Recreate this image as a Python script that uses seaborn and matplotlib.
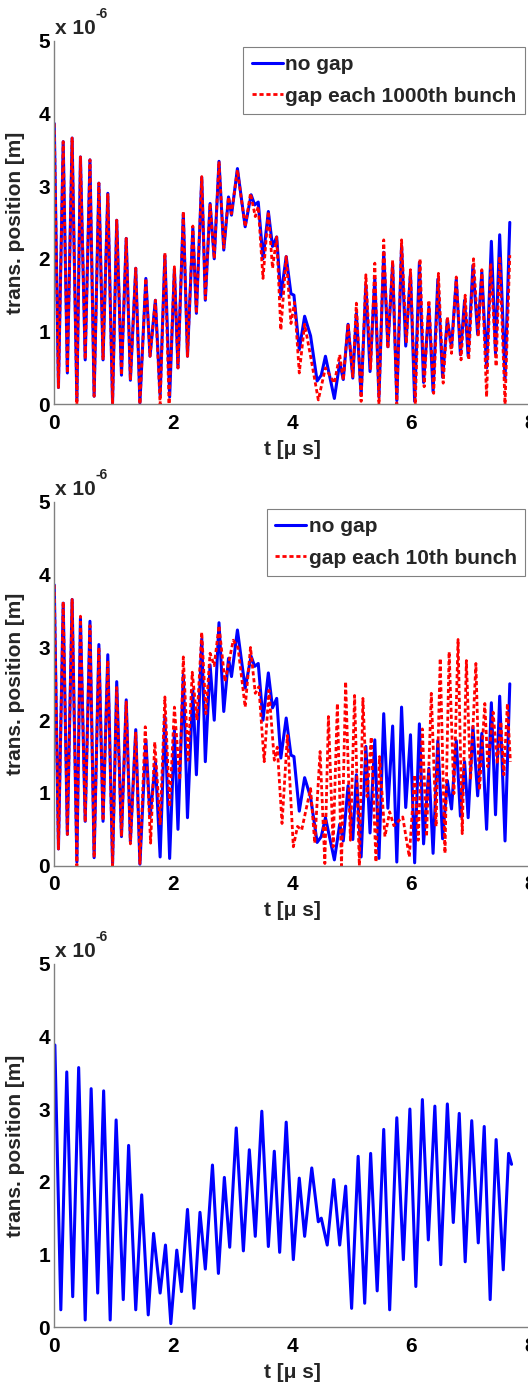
import matplotlib
matplotlib.use("Agg")
import matplotlib.pyplot as plt
import seaborn as sns

# ---------------- data (values in units of 1e-6 m, time in microseconds) ----------------
nogap_t = [0.00, 0.07, 0.15, 0.22, 0.30, 0.38, 0.44, 0.52, 0.60, 0.67, 0.75, 0.82, 0.90, 0.98,
           1.05, 1.13, 1.21, 1.28, 1.37, 1.44, 1.54, 1.61, 1.70, 1.78, 1.86, 1.94, 2.02, 2.08,
           2.17, 2.24, 2.33, 2.39, 2.48, 2.54, 2.62, 2.69, 2.77, 2.85, 2.93, 2.98, 3.08, 3.21,
           3.31, 3.37, 3.43, 3.51, 3.60, 3.67, 3.74, 3.81, 3.90, 3.98, 4.03, 4.12, 4.21, 4.31,
           4.42, 4.49, 4.56, 4.71, 4.80, 4.86, 4.94, 5.02, 5.08, 5.16, 5.24, 5.31, 5.39, 5.46,
           5.54, 5.61, 5.69, 5.76, 5.84, 5.91, 5.99, 6.06, 6.14, 6.21, 6.30, 6.37, 6.45, 6.53,
           6.61, 6.68, 6.76, 6.83, 6.90, 6.96, 7.04, 7.12, 7.19, 7.27, 7.35, 7.42, 7.49, 7.58,
           7.66]
nogap_v = [3.86, 0.23, 3.61, 0.43, 3.66, 0.05, 3.40, 0.61, 3.36, 0.11, 3.04, 0.61, 2.90, 0.02,
           2.53, 0.40, 2.28, 0.33, 1.87, 0.02, 1.73, 0.66, 1.43, 0.12, 2.05, 0.10, 1.86, 0.50,
           2.62, 0.66, 2.42, 1.25, 3.12, 1.43, 2.76, 2.00, 3.34, 2.12, 2.85, 2.60, 3.24, 2.44,
           2.88, 2.74, 2.78, 2.00, 2.65, 2.17, 2.30, 1.48, 2.03, 1.52, 1.50, 0.75, 1.21, 0.94,
           0.32, 0.40, 0.66, 0.08, 0.57, 0.34, 1.10, 0.36, 1.25, 0.12, 1.64, 0.45, 1.73, 0.10,
           2.09, 0.79, 1.92, 0.05, 2.18, 0.80, 1.80, 0.04, 1.95, 0.30, 1.34, 0.17, 1.72, 0.37,
           1.17, 0.78, 1.72, 0.68, 1.43, 0.66, 1.91, 0.96, 1.82, 0.50, 2.24, 0.70, 2.33, 0.34,
           2.50]

gap1000_t = [0.00, 0.07, 0.15, 0.22, 0.30, 0.38, 0.44, 0.52, 0.60, 0.67, 0.75, 0.82, 0.90, 0.98,
             1.05, 1.13, 1.21, 1.28, 1.37, 1.44, 1.54, 1.61, 1.70, 1.78, 1.86, 1.93, 2.02, 2.08,
             2.17, 2.24, 2.33, 2.39, 2.48, 2.54, 2.62, 2.69, 2.77, 2.85, 2.93, 2.98, 3.08, 3.21,
             3.30, 3.38, 3.43, 3.51, 3.60, 3.67, 3.74, 3.81, 3.90, 3.98, 4.04, 4.12, 4.21, 4.31,
             4.44, 4.56, 4.71, 4.80, 4.86, 4.94, 5.02, 5.08, 5.16, 5.24, 5.32, 5.39, 5.46, 5.54,
             5.61, 5.69, 5.76, 5.84, 5.92, 5.99, 6.07, 6.15, 6.22, 6.30, 6.38, 6.46, 6.54, 6.61,
             6.68, 6.76, 6.84, 6.91, 6.97, 7.05, 7.13, 7.19, 7.27, 7.34, 7.43, 7.49, 7.58, 7.66]
gap1000_v = [3.86, 0.23, 3.61, 0.43, 3.66, 0.00, 3.40, 0.62, 3.36, 0.11, 3.04, 0.61, 2.90, 0.00,
             2.53, 0.40, 2.28, 0.33, 1.87, 0.00, 1.73, 0.66, 1.43, 0.00, 2.08, 0.00, 1.89, 0.50,
             2.65, 0.66, 2.45, 1.25, 3.13, 1.45, 2.76, 2.00, 3.34, 2.15, 2.85, 2.62, 3.22, 2.44,
             2.90, 2.58, 2.72, 1.73, 2.65, 1.87, 2.30, 1.02, 2.03, 1.11, 1.40, 0.43, 1.10, 0.66,
             0.06, 0.50, 0.29, 0.68, 0.33, 1.11, 0.38, 1.39, 0.04, 1.78, 0.49, 1.94, 0.00, 2.26,
             0.77, 1.98, 0.00, 2.26, 0.84, 1.85, 0.00, 2.00, 0.24, 1.43, 0.15, 1.80, 0.29, 1.20,
             0.70, 1.75, 0.61, 1.50, 0.61, 2.00, 0.93, 1.85, 0.10, 1.94, 0.52, 2.03, 0.00, 2.05]

gap10_t = [0.00, 0.07, 0.15, 0.22, 0.30, 0.38, 0.44, 0.52, 0.60, 0.67, 0.75, 0.82, 0.90, 0.98,
           1.05, 1.13, 1.21, 1.28, 1.37, 1.44, 1.53, 1.62, 1.69, 1.78, 1.86, 1.94, 2.02, 2.11,
           2.17, 2.25, 2.32, 2.40, 2.48, 2.55, 2.62, 2.69, 2.77, 2.87, 3.01, 3.09, 3.21, 3.30,
           3.38, 3.44, 3.53, 3.61, 3.70, 3.75, 3.83, 3.92, 4.02, 4.09, 4.16, 4.31, 4.38, 4.47,
           4.55, 4.61, 4.69, 4.76, 4.83, 4.90, 4.98, 5.05, 5.13, 5.19, 5.26, 5.33, 5.41, 5.47,
           5.56, 5.64, 5.71, 5.86, 5.97, 6.06, 6.12, 6.19, 6.26, 6.34, 6.42, 6.49, 6.57, 6.64,
           6.72, 6.79, 6.86, 6.93, 7.00, 7.09, 7.15, 7.24, 7.29, 7.38, 7.45, 7.51, 7.56, 7.62,
           7.67]
gap10_v = [3.86, 0.23, 3.63, 0.43, 3.66, 0.00, 3.43, 0.60, 3.30, 0.11, 3.00, 0.62, 2.82, 0.00,
           2.45, 0.40, 2.25, 0.30, 1.84, 0.03, 1.91, 0.31, 1.70, 0.56, 2.32, 0.81, 2.18, 1.18,
           2.87, 1.45, 2.66, 2.00, 3.21, 2.09, 2.92, 2.75, 3.30, 2.53, 3.10, 3.00, 2.18, 3.00,
           2.37, 2.46, 1.43, 2.41, 1.45, 1.63, 0.58, 1.79, 0.26, 0.54, 0.49, 1.06, 0.31, 1.57,
           0.03, 2.05, 0.26, 2.23, 0.00, 2.53, 0.35, 2.34, 0.00, 2.30, 0.95, 1.77, 0.05, 1.50,
           0.40, 0.74, 0.55, 0.67, 0.12, 1.25, 0.35, 1.88, 0.40, 2.37, 0.54, 2.85, 0.17, 2.94,
           0.99, 3.11, 0.44, 2.82, 1.18, 2.78, 1.04, 2.23, 1.36, 2.11, 1.40, 1.98, 1.25, 2.23,
           1.43]

single_t = [0.01, 0.11, 0.21, 0.31, 0.41, 0.52, 0.62, 0.73, 0.83, 0.94, 1.04, 1.16, 1.25, 1.37,
            1.47, 1.58, 1.67, 1.78, 1.87, 1.96, 2.06, 2.14, 2.24, 2.35, 2.45, 2.54, 2.66, 2.76,
            2.86, 2.95, 3.06, 3.18, 3.28, 3.38, 3.49, 3.60, 3.70, 3.79, 3.90, 4.02, 4.12, 4.21,
            4.33, 4.44, 4.49, 4.59, 4.70, 4.80, 4.90, 5.00, 5.11, 5.22, 5.32, 5.43, 5.54, 5.64,
            5.76, 5.87, 5.98, 6.08, 6.19, 6.29, 6.40, 6.50, 6.61, 6.71, 6.81, 6.91, 7.02, 7.13,
            7.23, 7.33, 7.43, 7.55, 7.64, 7.69]
single_v = [3.88, 0.24, 3.51, 0.42, 3.57, 0.10, 3.28, 0.47, 3.25, 0.10, 2.85, 0.38, 2.50, 0.24,
            1.82, 0.17, 1.29, 0.47, 1.13, 0.05, 1.06, 0.49, 1.62, 0.26, 1.58, 0.80, 2.23, 0.74,
            2.06, 1.10, 2.74, 1.05, 2.44, 1.25, 2.97, 1.11, 2.42, 1.03, 2.82, 0.93, 2.05, 1.25,
            2.19, 1.45, 1.50, 1.13, 2.03, 1.13, 1.94, 0.26, 2.35, 0.33, 2.39, 0.50, 2.72, 0.24,
            2.88, 0.93, 3.00, 0.56, 3.13, 1.20, 3.04, 0.86, 3.07, 1.44, 2.94, 0.90, 2.84, 1.16,
            2.76, 0.38, 2.58, 0.79, 2.39, 2.24]

xticks = [0, 2, 4, 6, 8]
yticks = [0, 1, 2, 3, 4, 5]
xlabel = "t [μ s]"
ylabel = "trans. position [m]"
scale_base = "x 10"
scale_exp = "-6"
label_nogap = "no gap"
label_gap1000 = "gap each 1000th bunch"
label_gap10 = "gap each 10th bunch"

# ---------------- style ----------------
sns.set_style("white")
plt.rcParams["font.family"] = ["Liberation Sans", "DejaVu Sans"]
plt.rcParams["font.weight"] = "bold"

FS = 15
BLUE = "#0000ff"
RED = "#ff0000"
AXC = "#808080"

fig = plt.figure(figsize=(5.28, 13.84), dpi=100)
left, width, height = 0.1028, 0.901, 0.2628
bottoms = [0.7079, 0.3745, 0.0410]
axes = [fig.add_axes([left, b, width, height]) for b in bottoms]


def style_axis(ax):
    ax.set_xlim(0, 8)
    ax.set_ylim(0, 5)
    ax.set_xticks(xticks)
    ax.set_yticks(yticks)
    ax.set_xticklabels([str(v) for v in xticks], fontsize=FS, fontweight="bold")
    ax.set_yticklabels([str(v) for v in yticks], fontsize=FS, fontweight="bold")
    for s in ["top", "right"]:
        ax.spines[s].set_visible(False)
    for s in ["left", "bottom"]:
        ax.spines[s].set_color(AXC)
        ax.spines[s].set_linewidth(1.0)
    ax.tick_params(axis="both", direction="in", length=4, width=0.8, color=AXC, labelcolor="black")
    ax.tick_params(axis="x", pad=7)
    ax.tick_params(axis="y", pad=3)
    ax.set_xlabel(xlabel, fontsize=FS, fontweight="bold")
    ax.set_ylabel(ylabel, fontsize=FS, fontweight="bold")
    ax.xaxis.set_label_coords(0.5, -0.098)
    ax.yaxis.set_label_coords(-0.062, 0.5)
    ax.text(0.002, 1.008, scale_base, transform=ax.transAxes, ha="left", va="bottom",
            fontsize=FS, fontweight="bold")
    ax.annotate(scale_exp, xy=(0.002, 1.008), xycoords="axes fraction",
                xytext=(29, 12), textcoords="offset points", ha="left", va="bottom",
                fontsize=10, fontweight="bold")
    ax.set_facecolor("white")


def add_legend(ax, anchor):
    leg = ax.legend(loc="upper right", bbox_to_anchor=anchor, borderaxespad=0,
                    handlelength=1.5, handletextpad=0.12, borderpad=0.4,
                    labelspacing=0.6, fancybox=False, framealpha=1, edgecolor=AXC,
                    prop={"weight": "bold", "size": FS})
    leg.get_frame().set_linewidth(0.8)


# panel 1
ax = axes[0]
sns.lineplot(x=nogap_t, y=nogap_v, ax=ax, color=BLUE, linewidth=2.2, estimator=None,
             sort=False, label=label_nogap, solid_joinstyle="round")
sns.lineplot(x=gap1000_t, y=gap1000_v, ax=ax, color=RED, linewidth=2.0, estimator=None,
             sort=False, label=label_gap1000, linestyle=(0, (1.5, 1.0)))
style_axis(ax)
add_legend(ax, (0.9895, 0.983))

# panel 2
ax = axes[1]
sns.lineplot(x=nogap_t, y=nogap_v, ax=ax, color=BLUE, linewidth=2.2, estimator=None,
             sort=False, label=label_nogap, solid_joinstyle="round")
sns.lineplot(x=gap10_t, y=gap10_v, ax=ax, color=RED, linewidth=2.0, estimator=None,
             sort=False, label=label_gap10, linestyle=(0, (1.5, 1.0)))
style_axis(ax)
add_legend(ax, (0.9895, 0.981))

# panel 3
ax = axes[2]
sns.lineplot(x=single_t, y=single_v, ax=ax, color=BLUE, linewidth=2.2, estimator=None,
             sort=False, legend=False, solid_joinstyle="round")
style_axis(ax)

fig.savefig("out.png", dpi=100, facecolor="white")
